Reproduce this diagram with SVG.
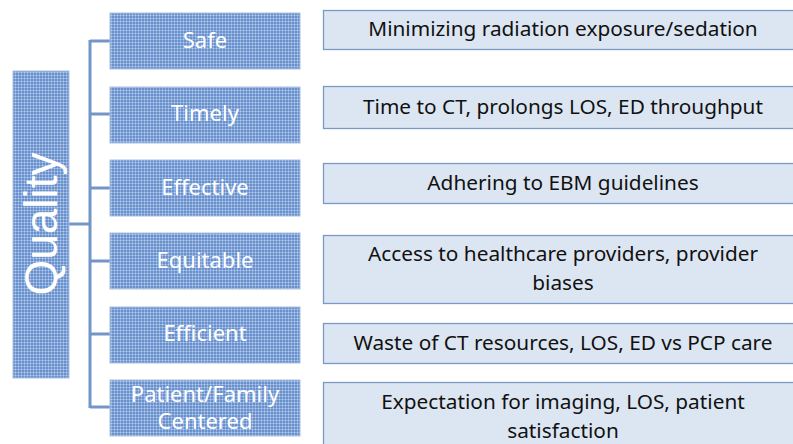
<svg xmlns="http://www.w3.org/2000/svg" width="793" height="444" viewBox="0 0 793 444">
<defs>
<pattern id="grid" width="3" height="3" patternUnits="userSpaceOnUse">
<rect width="3" height="3" fill="#6991CD"/>
<rect x="0" y="0" width="3" height="1" fill="#8FAEDD"/>
<rect x="0" y="0" width="1" height="3" fill="#8FAEDD"/>
<rect x="0" y="0" width="1" height="1" fill="#B9CDEB"/>
</pattern>
</defs>
<style>
.cat{fill:url(#grid);stroke:#A9C0E2;stroke-width:1}
.desc{fill:#DCE6F2;stroke:#7B99C8;stroke-width:1.3}
.ct{font-family:"Noto Sans","Liberation Sans",Arial,sans-serif;font-size:22px;fill:#FFFFFF;text-anchor:middle}
.dt{font-family:"Noto Sans","Liberation Sans",Arial,sans-serif;font-size:20.8px;fill:#111111;text-anchor:middle}
.conn{fill:none;stroke:#7395C7;stroke-width:3}
</style>
<g id="connectors">
<path class="conn" d="M90 40 V408"/>
<path class="conn" d="M69 224 H90"/>
<path class="conn" d="M90 41 H110"/>
<path class="conn" d="M90 114 H110"/>
<path class="conn" d="M90 188 H110"/>
<path class="conn" d="M90 261 H110"/>
<path class="conn" d="M90 334 H110"/>
<path class="conn" d="M90 407 H110"/>
</g>
<g id="quality">
<rect class="cat" x="13" y="71" width="56" height="307"/>
<text class="ct" transform="translate(57 224) rotate(-90)" style="font-family:'Liberation Sans',Arial,sans-serif;font-size:46px">Quality</text>
</g>
<g id="safe">
<rect class="cat" x="110" y="13" width="190" height="56"/>
<text class="ct" x="205" y="48">Safe</text>
</g>
<g id="timely">
<rect class="cat" x="110" y="87" width="190" height="56"/>
<text class="ct" x="205" y="121">Timely</text>
</g>
<g id="effective">
<rect class="cat" x="110" y="160" width="190" height="56"/>
<text class="ct" x="205" y="195">Effective</text>
</g>
<g id="equitable">
<rect class="cat" x="110" y="233" width="190" height="56"/>
<text class="ct" x="205" y="268">Equitable</text>
</g>
<g id="efficient">
<rect class="cat" x="110" y="307" width="190" height="56"/>
<text class="ct" x="205" y="341">Efficient</text>
</g>
<g id="patient">
<rect class="cat" x="110" y="380" width="190" height="56"/>
<text class="ct" x="205" y="402">Patient/Family</text>
<text class="ct" x="205" y="429">Centered</text>
</g>
<g id="d-safe">
<rect class="desc" x="323.5" y="10.5" width="475" height="39"/>
<text class="dt" x="563" y="36">Minimizing radiation exposure/sedation</text>
</g>
<g id="d-timely">
<rect class="desc" x="323.5" y="86.5" width="475" height="42"/>
<text class="dt" x="563" y="114">Time to CT, prolongs LOS, ED throughput</text>
</g>
<g id="d-effective">
<rect class="desc" x="323.5" y="163.5" width="475" height="40"/>
<text class="dt" x="563" y="190">Adhering to EBM guidelines</text>
</g>
<g id="d-equitable">
<rect class="desc" x="323.5" y="235.5" width="475" height="68"/>
<text class="dt" x="563" y="261">Access to healthcare providers, provider</text>
<text class="dt" x="563" y="290">biases</text>
</g>
<g id="d-efficient">
<rect class="desc" x="323.5" y="323.5" width="475" height="40"/>
<text class="dt" x="563" y="350">Waste of CT resources, LOS, ED vs PCP care</text>
</g>
<g id="d-patient">
<rect class="desc" x="323.5" y="382.5" width="475" height="70"/>
<text class="dt" x="563" y="409">Expectation for imaging, LOS, patient</text>
<text class="dt" x="563" y="438">satisfaction</text>
</g>
</svg>
